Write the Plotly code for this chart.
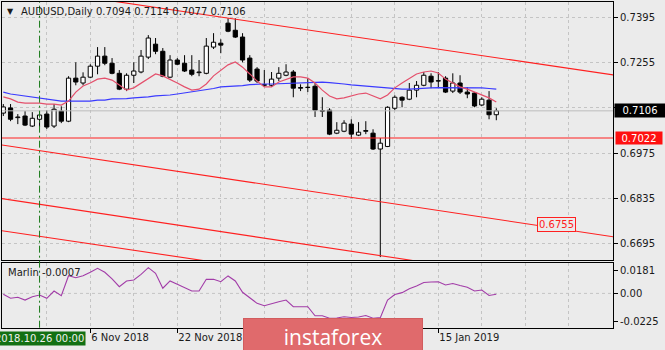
import plotly.graph_objects as go

# ---------------- data ----------------
dates = ["2018-10-19", "2018-10-22", "2018-10-23", "2018-10-24", "2018-10-25", "2018-10-26",
         "2018-10-29", "2018-10-30", "2018-10-31", "2018-11-01", "2018-11-02", "2018-11-05",
         "2018-11-06", "2018-11-07", "2018-11-08", "2018-11-09", "2018-11-12", "2018-11-13",
         "2018-11-14", "2018-11-15", "2018-11-16", "2018-11-19", "2018-11-20", "2018-11-21",
         "2018-11-22", "2018-11-23", "2018-11-26", "2018-11-27", "2018-11-28", "2018-11-29",
         "2018-11-30", "2018-12-03", "2018-12-04", "2018-12-05", "2018-12-06", "2018-12-07",
         "2018-12-10", "2018-12-11", "2018-12-12", "2018-12-13", "2018-12-14", "2018-12-17",
         "2018-12-18", "2018-12-19", "2018-12-20", "2018-12-21", "2018-12-24", "2018-12-26",
         "2018-12-27", "2018-12-28", "2018-12-31", "2019-01-02", "2019-01-03", "2019-01-04",
         "2019-01-07", "2019-01-08", "2019-01-09", "2019-01-10", "2019-01-11", "2019-01-14",
         "2019-01-15", "2019-01-16", "2019-01-17", "2019-01-18", "2019-01-21", "2019-01-22",
         "2019-01-23", "2019-01-24", "2019-01-25"]

opens = [0.7099, 0.7115, 0.7085, 0.7090, 0.7059, 0.7080, 0.7096, 0.7059, 0.7105, 0.7074,
         0.7207, 0.7192, 0.7210, 0.7244, 0.7275, 0.7253, 0.7222, 0.7173, 0.7216, 0.7226,
         0.7272, 0.7312, 0.7290, 0.7210, 0.7263, 0.7253, 0.7232, 0.7224, 0.7222, 0.7303,
         0.7315, 0.7377, 0.7355, 0.7334, 0.7269, 0.7235, 0.7187, 0.7185, 0.7207, 0.7216,
         0.7226, 0.7178, 0.7179, 0.7182, 0.7107, 0.7108, 0.7037, 0.7043, 0.7065, 0.7031,
         0.7045, 0.7037, 0.6988, 0.6996, 0.7114, 0.7148, 0.7142, 0.7170, 0.7185, 0.7213,
         0.7199, 0.7207, 0.7167, 0.7192, 0.7164, 0.7161, 0.7124, 0.7139, 0.7094]
highs = [0.7127, 0.7127, 0.7096, 0.7105, 0.7102, 0.7105, 0.7108, 0.7127, 0.7120, 0.7213,
         0.7256, 0.7225, 0.7250, 0.7303, 0.7303, 0.7269, 0.7232, 0.7222, 0.7256, 0.7294,
         0.7340, 0.7331, 0.7300, 0.7278, 0.7269, 0.7278, 0.7278, 0.7263, 0.7331, 0.7346,
         0.7327, 0.7392, 0.7392, 0.7346, 0.7278, 0.7241, 0.7232, 0.7226, 0.7241, 0.7250,
         0.7232, 0.7188, 0.7207, 0.7192, 0.7148, 0.7114, 0.7071, 0.7077, 0.7080, 0.7071,
         0.7074, 0.7049, 0.7022, 0.7120, 0.7154, 0.7151, 0.7192, 0.7198, 0.7226, 0.7222,
         0.7226, 0.7213, 0.7222, 0.7216, 0.7179, 0.7164, 0.7148, 0.7167, 0.7114]
lows = [0.7090, 0.7074, 0.7065, 0.7059, 0.7056, 0.7056, 0.7050, 0.7053, 0.7068, 0.7071,
        0.7185, 0.7185, 0.7207, 0.7219, 0.7247, 0.7219, 0.7170, 0.7167, 0.7192, 0.7222,
        0.7266, 0.7281, 0.7210, 0.7207, 0.7247, 0.7226, 0.7213, 0.7213, 0.7219, 0.7297,
        0.7284, 0.7349, 0.7331, 0.7256, 0.7195, 0.7192, 0.7180, 0.7180, 0.7198, 0.7213,
        0.7148, 0.7167, 0.7164, 0.7087, 0.7087, 0.7031, 0.7034, 0.7040, 0.7019, 0.7028,
        0.7034, 0.6985, 0.6654, 0.6994, 0.7108, 0.7117, 0.7139, 0.7148, 0.7182, 0.7176,
        0.7179, 0.7161, 0.7161, 0.7158, 0.7145, 0.7117, 0.7121, 0.7080, 0.7077]
closes = [0.7118, 0.7080, 0.7087, 0.7062, 0.7083, 0.7093, 0.7056, 0.7111, 0.7074, 0.7207,
          0.7195, 0.7210, 0.7244, 0.7275, 0.7253, 0.7222, 0.7173, 0.7216, 0.7229, 0.7275,
          0.7331, 0.7290, 0.7213, 0.7263, 0.7250, 0.7229, 0.7219, 0.7226, 0.7306, 0.7318,
          0.7309, 0.7352, 0.7334, 0.7263, 0.7201, 0.7198, 0.7185, 0.7204, 0.7222, 0.7226,
          0.7176, 0.7176, 0.7178, 0.7108, 0.7105, 0.7034, 0.7046, 0.7068, 0.7034, 0.7040,
          0.7043, 0.6988, 0.7006, 0.7117, 0.7148, 0.7139, 0.7170, 0.7185, 0.7216, 0.7195,
          0.7198, 0.7164, 0.7192, 0.7164, 0.7158, 0.7121, 0.7142, 0.7094, 0.7106]

ma_fast = [0.7149, 0.7143, 0.7133, 0.7130, 0.7130, 0.7130, 0.7127, 0.7127, 0.7124, 0.7136,
           0.7164, 0.7183, 0.7192, 0.7204, 0.7207, 0.7201, 0.7186, 0.7170, 0.7177, 0.7192,
           0.7207, 0.7220, 0.7214, 0.7204, 0.7192, 0.7180, 0.7170, 0.7173, 0.7189, 0.7214,
           0.7232, 0.7248, 0.7257, 0.7241, 0.7220, 0.7198, 0.7180, 0.7180, 0.7195, 0.7204,
           0.7211, 0.7211, 0.7207, 0.7192, 0.7170, 0.7152, 0.7143, 0.7146, 0.7152, 0.7158,
           0.7161, 0.7152, 0.7143, 0.7155, 0.7177, 0.7192, 0.7207, 0.7220, 0.7226, 0.7229,
           0.7223, 0.7204, 0.7192, 0.7180, 0.7173, 0.7164, 0.7155, 0.7146, 0.7133]
ma_slow = [0.7164, 0.7158, 0.7155, 0.7152, 0.7149, 0.7146, 0.7143, 0.7139, 0.7136, 0.7136,
           0.7136, 0.7136, 0.7136, 0.7139, 0.7139, 0.7143, 0.7143, 0.7144, 0.7146, 0.7147,
           0.7149, 0.7152, 0.7153, 0.7155, 0.7158, 0.7161, 0.7164, 0.7167, 0.7170, 0.7175,
           0.7180, 0.7181, 0.7183, 0.7184, 0.7187, 0.7189, 0.7189, 0.7189, 0.7190, 0.7190,
           0.7192, 0.7192, 0.7192, 0.7193, 0.7195, 0.7193, 0.7192, 0.7189, 0.7186, 0.7184,
           0.7183, 0.7181, 0.7180, 0.7177, 0.7175, 0.7173, 0.7173, 0.7175, 0.7177, 0.7177,
           0.7178, 0.7178, 0.7178, 0.7178, 0.7178, 0.7177, 0.7177, 0.7175, 0.7173]

marlin = [-0.0007, -0.0039, -0.0031, -0.0053, -0.0026, -0.0013, -0.0039, 0.0019, -0.0018, 0.0141,
          0.0125, 0.0141, 0.0168, 0.0200, 0.0168, 0.0115, 0.0053, 0.0099, 0.0107, 0.0152,
          0.0205, 0.0160, 0.0041, 0.0099, 0.0072, 0.0045, 0.0019, 0.0019, 0.0112, 0.0112,
          0.0093, 0.0139, 0.0099, 0.0009, -0.0034, -0.0079, -0.0098, -0.0079, -0.0066, -0.0053,
          -0.0106, -0.0106, -0.0106, -0.0178, -0.0178, -0.0198, -0.0196, -0.0186, -0.0192, -0.0188,
          -0.0176, -0.0198, -0.0193, -0.0053, -0.0009, 0.0006, 0.0037, 0.0059, 0.0087, 0.0091,
          0.0093, 0.0067, 0.0079, 0.0063, 0.0049, 0.0019, 0.0027, -0.0017, -0.0007]

# trend lines: (bar position, price) anchor pairs
trend_x = [[0, 84.1], [0, 84.1], [0, 45.06], [0, 26.2]]
trend_y = [[0.7495, 0.7217], [0.7000, 0.6717], [0.6834, 0.6682], [0.6735, 0.6648]]
level_price = 0.7022
target_label = "0.6755"
target_pos = 73.6
marked_bar = 5                      # 2018.10.26 vertical marker
marked_label = "2018.10.26 00:00"

price_ticks = [0.7395, 0.7255, 0.7115, 0.6975, 0.6835, 0.6695]
price_ticktext = ["0.7395", "0.7255", "", "0.6975", "0.6835", "0.6695"]
marlin_ticks = [0.0181, 0.0, -0.0225]
marlin_ticktext = ["0.0181", "0.00", "-0.0225"]
date_tick_pos = [12, 24, 60]
date_tick_text = ["6 Nov 2018", "22 Nov 2018", "15 Jan 2019"]
grid_pos = [6, 18, 30, 36, 42, 48, 54, 66, 72, 78]

# ---------------- build ----------------
W, H = 665, 350
BG = "#ebebeb"
FONT = "DejaVu Sans"
TXT = "#1a1a1a"
idx = list(range(len(dates)))

x_px0, x_px1 = 2, 613
bar_px0, bar_step = 3.3, 7.25
xr = [(x_px0 - bar_px0) / bar_step, (x_px1 - bar_px0) / bar_step]
main_top, main_bot = 2, 260
mar_top, mar_bot = 263, 327.7
yr_main = [0.66451, 0.74423]
yr_mar = [-0.0273, 0.0242]


def py(px):
    return 1 - px / H


fig = go.Figure()

# wicks (upper and lower parts separately so they don't cross bodies)
wx, wy = [], []
for i, o, h, l, c in zip(idx, opens, highs, lows, closes):
    top, bot = max(o, c), min(o, c)
    wx += [i, i, None, i, i, None]
    wy += [h, top, None, bot, l, None]
fig.add_trace(go.Scatter(x=wx, y=wy, mode="lines", line=dict(color="black", width=1),
                         hoverinfo="skip", showlegend=False, xaxis="x", yaxis="y"))

base = [min(o, c) for o, c in zip(opens, closes)]
height = [max(abs(c - o), 0.00003) for o, c in zip(opens, closes)]
colors = ["white" if c >= o else "black" for o, c in zip(opens, closes)]
fig.add_trace(go.Bar(x=idx, y=height, base=base, width=0.58,
                     marker=dict(color=colors, line=dict(color="black", width=1)),
                     showlegend=False, xaxis="x", yaxis="y"))

fig.add_trace(go.Scatter(x=idx, y=ma_slow, mode="lines", line=dict(color="#3a3aff", width=1.2),
                         showlegend=False, xaxis="x", yaxis="y"))
fig.add_trace(go.Scatter(x=idx, y=ma_fast, mode="lines", line=dict(color="#e4506c", width=1.2),
                         showlegend=False, xaxis="x", yaxis="y"))

# channel lines
for tx, ty in zip(trend_x, trend_y):
    slope = (ty[1] - ty[0]) / (tx[1] - tx[0])
    xa, xb = xr[0] - 1, xr[1] + 1
    fig.add_trace(go.Scatter(x=[xa, xb], y=[ty[0] + slope * (xa - tx[0]), ty[0] + slope * (xb - tx[0])],
                             mode="lines", line=dict(color="#ff2020", width=1.1),
                             showlegend=False, xaxis="x", yaxis="y"))

# bid line and level
fig.add_trace(go.Scatter(x=[xr[0] - 1, xr[1] + 1], y=[closes[-1]] * 2, mode="lines",
                         line=dict(color="#bdbdbd", width=1), showlegend=False, xaxis="x", yaxis="y"))
fig.add_trace(go.Scatter(x=[xr[0] - 1, xr[1] + 1], y=[level_price] * 2, mode="lines",
                         line=dict(color="#ff2020", width=1.1), showlegend=False, xaxis="x", yaxis="y"))

# marlin
fig.add_trace(go.Scatter(x=idx, y=marlin, mode="lines", line=dict(color="#a23ca8", width=1.1),
                         showlegend=False, xaxis="x2", yaxis="y2"))

grid_style = dict(gridcolor="#c4c4c4", griddash="3px,3px", gridwidth=1)
axis_line = dict(showline=True, mirror=True, linecolor="black", linewidth=1)
tickfont = dict(family=FONT, size=10, color=TXT)

fig.update_layout(
    width=W, height=H, margin=dict(l=0, r=0, t=0, b=0),
    paper_bgcolor=BG, plot_bgcolor=BG, barmode="overlay", showlegend=False,
    xaxis=dict(domain=[x_px0 / W, x_px1 / W], range=xr, anchor="y",
               tickvals=date_tick_pos, showticklabels=False, ticks="", showgrid=True,
               minor=dict(tickvals=grid_pos, showgrid=True, ticks="", **grid_style),
               zeroline=False, **grid_style, **axis_line),
    yaxis=dict(domain=[py(main_bot), py(main_top)], range=yr_main, anchor="x", side="right",
               tickvals=price_ticks, ticktext=price_ticktext, ticks="outside", ticklen=4,
               tickcolor="black", tickfont=tickfont, showgrid=True, zeroline=False,
               **grid_style, **axis_line),
    xaxis2=dict(domain=[x_px0 / W, x_px1 / W], range=xr, anchor="y2",
                tickvals=date_tick_pos, ticktext=date_tick_text, ticks="outside", ticklen=4,
                tickcolor="black", tickfont=tickfont, ticklabelposition="outside right",
                showgrid=True, minor=dict(tickvals=grid_pos, showgrid=True, ticks="", **grid_style),
                zeroline=False, **grid_style, **axis_line),
    yaxis2=dict(domain=[py(mar_bot), py(mar_top)], range=yr_mar, anchor="x2", side="right",
                tickvals=marlin_ticks, ticktext=marlin_ticktext, ticks="outside", ticklen=4,
                tickcolor="black", tickfont=tickfont, showgrid=False, zeroline=False, **axis_line),
)

shapes = [
    dict(type="line", xref="x", yref="y2", x0=xr[0], x1=xr[1], y0=0, y1=0,
         line=dict(color="#c4c4c4", width=1, dash="3px,3px"), layer="below"),
    dict(type="line", xref="x", yref="paper", x0=marked_bar, x1=marked_bar,
         y0=py(mar_bot), y1=py(main_top), line=dict(color="#1a7a1a", width=1, dash="7px,3px,2px,3px")),
]
fig.update_layout(shapes=shapes)

ann = []
# header
ann.append(dict(xref="paper", yref="paper", x=5 / W, y=py(11), xanchor="left", yanchor="middle",
                text="▼", showarrow=False, font=dict(family=FONT, size=8, color=TXT)))
ann.append(dict(xref="paper", yref="paper", x=19 / W, y=py(11), xanchor="left", yanchor="middle",
                text="AUDUSD,Daily", showarrow=False, font=dict(family=FONT, size=10, color=TXT)))
ann.append(dict(xref="paper", yref="paper", x=94 / W, y=py(11), xanchor="left", yanchor="middle",
                text=f"{opens[-1]:.4f} {highs[-1]:.4f} {lows[-1]:.4f} {closes[-1]:.4f}",
                showarrow=False, font=dict(family=FONT, size=10, color=TXT)))
# marlin label
ann.append(dict(xref="paper", yref="paper", x=6 / W, y=py(272), xanchor="left", yanchor="middle",
                text=f"Marlin {marlin[-1]:.4f}", showarrow=False, font=dict(family=FONT, size=10, color=TXT)))
# price boxes
ann.append(dict(xref="paper", yref="y", x=613.5 / W, y=closes[-1], xanchor="left", yanchor="middle",
                text=f"{closes[-1]:.4f}", showarrow=False, bgcolor="black", width=48, height=11,
                borderpad=1, align="center", font=dict(family=FONT, size=10, color="white")))
ann.append(dict(xref="paper", yref="y", x=614.5 / W, y=level_price, xanchor="left", yanchor="middle",
                text=f"{level_price:.4f}", showarrow=False, bgcolor="#ff1010", width=44, height=10,
                borderpad=1, align="center", font=dict(family=FONT, size=10, color="white")))
ann.append(dict(xref="x", yref="y", x=target_pos, y=float(target_label), xanchor="left", yanchor="middle",
                text=target_label, showarrow=False, bgcolor=BG, bordercolor="#ff2020", borderwidth=1,
                borderpad=1, font=dict(family=FONT, size=10, color="#ff2020")))
# marker date label (clipped at the left edge as in the original)
ann.append(dict(xref="x2", yref="paper", x=marked_bar, y=py(338), xanchor="center", yanchor="middle",
                text=marked_label, showarrow=False, bgcolor="#137013", borderpad=1,
                font=dict(family=FONT, size=10, color="#f0f0f0")))
# watermark
ann.append(dict(xref="paper", yref="paper", x=243 / W, y=py(318), xanchor="left", yanchor="top",
                text="instaforex", showarrow=False, bgcolor="#e06a6c", bordercolor="#d25c5e",
                borderwidth=1, width=176, height=34, align="center", valign="middle",
                font=dict(family="Open Sans", size=21, color="white")))
fig.update_layout(annotations=ann)

fig.write_html("out.html")
